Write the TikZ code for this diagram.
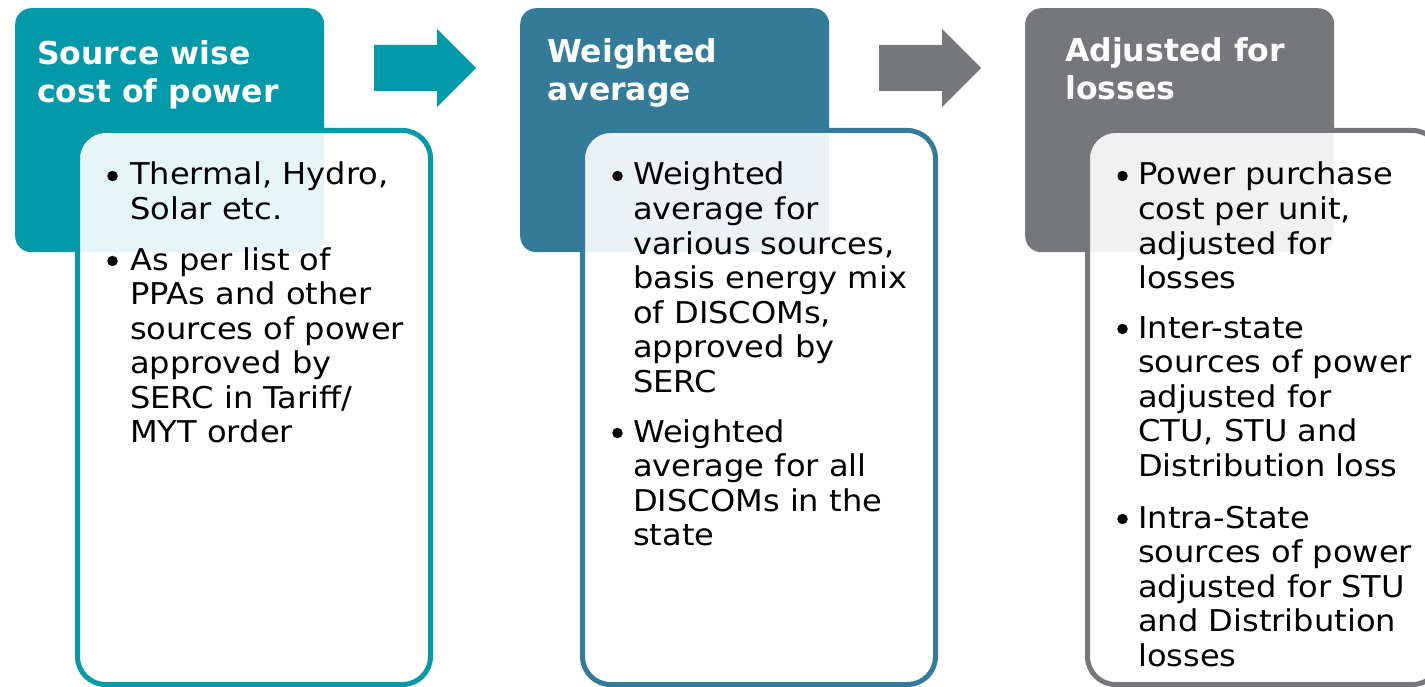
\documentclass[tikz,border=0pt]{standalone}
\usepackage{fontspec}
\setmainfont{DejaVu Sans}
\newfontfamily\bodyfont[FakeStretch=1.07]{DejaVu Sans}
\definecolor{cteal}{HTML}{0399A9}
\definecolor{cblue}{HTML}{337B99}
\definecolor{cgray}{HTML}{75777A}
\newcommand\mylines[1]{\vtop{\let\\\cr\halign{##\hfil\cr#1\crcr}}}
\tikzset{
  topbox/.style={rectangle, rounded corners=16pt, inner sep=0pt, anchor=north west,
    minimum width=309pt, minimum height=244pt},
  innerbox/.style={rectangle, rounded corners=28pt, inner sep=0pt, line width=5pt,
    fill=white, fill opacity=0.9, draw opacity=1, minimum width=353pt, minimum height=554pt},
  title/.style={anchor=base west, inner sep=0pt, text=white,
    font=\fontsize{31.5}{38}\selectfont\bfseries},
  body/.style={anchor=base west, inner sep=0pt, text=black,
    font=\bodyfont\fontsize{30}{34.6}\selectfont},
  bulc/.style={circle, fill=black, inner sep=0pt, minimum size=10.5pt},
}
\begin{document}
\begin{tikzpicture}[x=1pt, y=-1pt]
\useasboundingbox (0,0) rectangle (1425,687);
\clip (0,0) rectangle (1425,687);
% top boxes
\node[topbox, fill=cteal] (t1) at (15,8) {};
\node[topbox, fill=cblue] (t2) at (520,8) {};
\node[topbox, fill=cgray] (t3) at (1025,8) {};
% titles
\node[title] (h1) at (37,65) {\mylines{Source wise\\cost of power}};
\node[title] (h2) at (547,63) {\mylines{Weighted\\average}};
\node[title] (h3) at (1065,62) {\mylines{Adjusted for\\losses}};
% block arrows
\fill[cteal] (374,45) -- (437,45) -- (437,29) -- (476,68) -- (437,107) -- (437,91) -- (374,91) -- cycle;
\fill[cgray] (879,45) -- (942,45) -- (942,29) -- (981,68) -- (942,107) -- (942,91) -- (879,91) -- cycle;
% inner boxes
\node[innerbox, draw=cteal] (i1) at (254,407.5) {};
\node[innerbox, draw=cblue] (i2) at (759,407.5) {};
\node[innerbox, draw=cgray] (i3) at (1264,407.5) {};
% box 1 text
\node[bulc] (u11) at (112.5,176) {};
\node[body] (p11) at (130,185) {\mylines{Thermal, Hydro,\\Solar etc.}};
\node[bulc] (u12) at (112.5,261) {};
\node[body] (p12) at (130,270) {\mylines{As per list of\\PPAs and other\\sources of power\\approved by\\SERC in Tariff/\\MYT order}};
% box 2 text
\node[bulc] (u21) at (617.5,176) {};
\node[body] (p21) at (633,185) {\mylines{Weighted\\average for\\various sources,\\basis energy mix\\of DISCOMs,\\approved by\\SERC}};
\node[bulc] (u22) at (617.5,433) {};
\node[body] (p22) at (633,442) {\mylines{Weighted\\average for all\\DISCOMs in the\\state}};
% box 3 text
\node[bulc] (u31) at (1122.5,176) {};
\node[body] (p31) at (1138,185) {\mylines{Power purchase\\cost per unit,\\adjusted for\\losses}};
\node[bulc] (u32) at (1122.5,329) {};
\node[body] (p32) at (1138,338) {\mylines{Inter-state\\sources of power\\adjusted for\\CTU, STU and\\Distribution loss}};
\node[bulc] (u33) at (1122.5,519) {};
\node[body] (p33) at (1138,528) {\mylines{Intra-State\\sources of power\\adjusted for STU\\and Distribution\\losses}};
\end{tikzpicture}
\end{document}
